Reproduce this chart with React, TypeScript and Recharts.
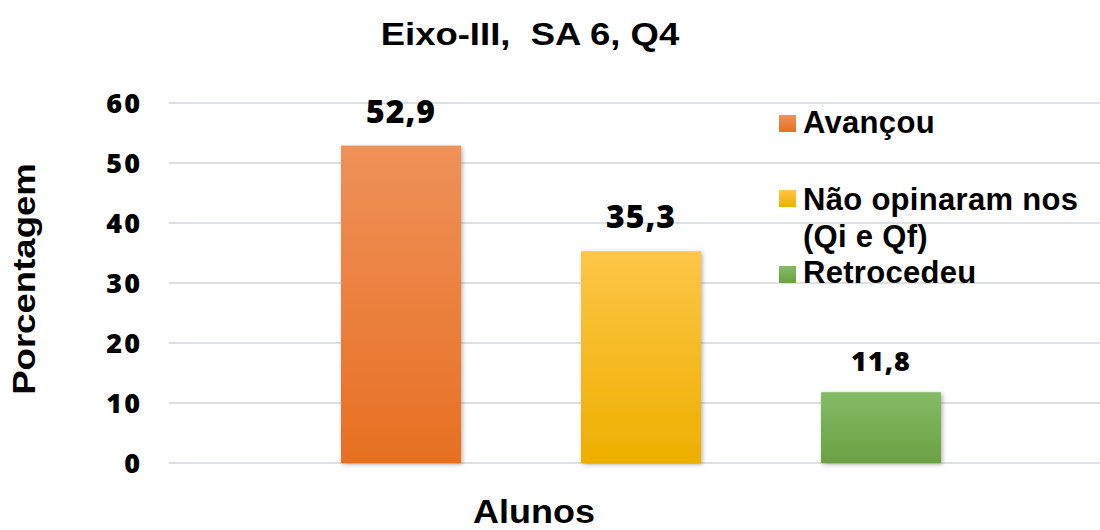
import React from "react";
import { BarChart, Bar, XAxis, YAxis, CartesianGrid, LabelList } from "recharts";

const categories = ["Alunos"];
const seriesNames = ["Avançou", "Não opinaram nos (Qi e Qf)", "Retrocedeu"];
const seriesValues = [52.9, 35.3, 11.8];
const yTicks = [0, 10, 20, 30, 40, 50, 60];
const chartTitle = "Eixo-III,  SA 6, Q4";
const yTitle = "Porcentagem";
const xTitle = "Alunos";

const gradTop = ["#EF915A", "#FDC647", "#84BB66"];
const gradBottom = ["#E77022", "#EEAF00", "#6BA143"];
const labelSizes = [32, 32, 27];
const labelOffsets = [23, 23, 21];

const data = categories.map((c) => {
  const row: Record<string, string | number> = { name: c };
  seriesValues.forEach((v, i) => {
    row["s" + i] = v;
  });
  return row;
});

const fmt = (v: any) => String(v).replace(".", ",");

const BarShape = (props: any) => {
  const { x, y, width, height, fill } = props;
  if (!height || height <= 0) return null;
  return <rect x={x} y={y} width={width} height={height} fill={fill} filter="url(#barShadow)" />;
};

const legendLayout = [
  { markerY: 115, lines: [133] },
  { markerY: 190, lines: [210, 247] },
  { markerY: 266, lines: [283] },
];

const splitName = (n: string) => {
  const idx = n.indexOf(" (");
  return idx > 0 ? [n.slice(0, idx), n.slice(idx + 1)] : [n];
};

const textFont = "'Liberation Sans', Arial, sans-serif";
const numFont = "'Open Sans', sans-serif";

export default function App() {
  return (
    <div style={{ position: "absolute", left: 0, top: 0, width: 1100, height: 530, background: "#fff" }}>
      <BarChart
        width={1100}
        height={530}
        data={data}
        margin={{ top: 103, right: 0, bottom: 67, left: 0 }}
        barSize={120}
        barGap={120}
      >
        <defs>
          {seriesNames.map((_, i) => (
            <linearGradient key={i} id={"barGrad" + i} x1="0" y1="0" x2="0" y2="1">
              <stop offset="0%" stopColor={gradTop[i]} />
              <stop offset="100%" stopColor={gradBottom[i]} />
            </linearGradient>
          ))}
          <filter id="barShadow" x="-10%" y="-10%" width="130%" height="130%">
            <feDropShadow dx="1.5" dy="1.5" stdDeviation="2" floodColor="#000" floodOpacity="0.3" />
          </filter>
        </defs>
        <CartesianGrid horizontal vertical={false} stroke="#dcdfe4" strokeWidth={2} />
        <XAxis dataKey="name" hide padding={{ left: 13, right: 0 }} />
        <YAxis
          width={169}
          domain={[0, 60]}
          ticks={yTicks}
          interval={0}
          axisLine={false}
          tickLine={false}
          tickSize={0}
          tickMargin={27}
          tick={{ fill: "#000", fontFamily: numFont, fontWeight: 800, fontSize: 27, letterSpacing: 2 }}
        />
        {seriesNames.map((n, i) => (
          <Bar
            key={i}
            dataKey={"s" + i}
            name={n}
            fill={`url(#barGrad${i})`}
            shape={BarShape}
            isAnimationActive={false}
          >
            <LabelList
              dataKey={"s" + i}
              position="top"
              offset={labelOffsets[i]}
              formatter={fmt}
              style={{ fill: "#000", fontFamily: numFont, fontWeight: 800, fontSize: labelSizes[i], letterSpacing: 1 }}
            />
          </Bar>
        ))}
      </BarChart>
      <svg
        width={1100}
        height={530}
        style={{ position: "absolute", left: 0, top: 0, pointerEvents: "none" }}
      >
        <defs>
          {seriesNames.map((_, i) => (
            <linearGradient key={i} id={"legGrad" + i} x1="0" y1="0" x2="0" y2="1">
              <stop offset="0%" stopColor={gradTop[i]} />
              <stop offset="100%" stopColor={gradBottom[i]} />
            </linearGradient>
          ))}
        </defs>
        <text
          transform="translate(530,45) scale(1.14,1)"
          textAnchor="middle"
          fontFamily={textFont}
          fontWeight={700}
          fontSize={32}
          fill="#000"
          style={{ whiteSpace: "pre" }}
        >
          {chartTitle}
        </text>
        <text
          transform="translate(35,279) rotate(-90) scale(1.18,1)"
          textAnchor="middle"
          fontFamily={textFont}
          fontWeight={700}
          fontSize={31}
          fill="#000"
        >
          {yTitle}
        </text>
        <text
          transform="translate(534,523) scale(1.09,1)"
          textAnchor="middle"
          fontFamily={textFont}
          fontWeight={700}
          fontSize={33}
          fill="#000"
        >
          {xTitle}
        </text>
        {seriesNames.map((n, i) => {
          const lay = legendLayout[i];
          const lines = splitName(n);
          return (
            <g key={i}>
              <rect x={779} y={lay.markerY} width={17} height={17} fill={`url(#legGrad${i})`} />
              {lines.map((ln, j) => (
                <text
                  key={j}
                  x={803}
                  y={lay.lines[j]}
                  fontFamily={textFont}
                  fontWeight={700}
                  fontSize={31}
                  letterSpacing={0.3}
                  fill="#000"
                >
                  {ln}
                </text>
              ))}
            </g>
          );
        })}
      </svg>
    </div>
  );
}
